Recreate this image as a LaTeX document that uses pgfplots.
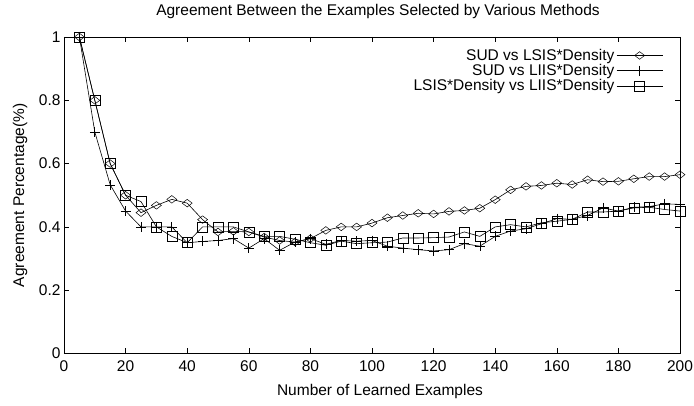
\documentclass[border=0pt]{standalone}
\usepackage{fontspec}
\setmainfont{Liberation Sans}
\usepackage{pgfplots}
\pgfplotsset{compat=1.18}
\begin{document}
\begin{tikzpicture}
\useasboundingbox (-64pt,-52.5pt) rectangle (630pt,353.5pt);
\begin{axis}[
  scale only axis,
  width=616pt, height=316.5pt,
  xmin=0, xmax=200, ymin=0, ymax=1,
  xtick={0,20,...,200},
  ytick={0,0.2,0.4,0.6,0.8,1},
  tick align=inside,
  major tick length=5pt,
  /pgf/number format/assume math mode=true,
  tick label style={font=\fontsize{15.5}{17}\selectfont},
  xticklabel style={yshift=-4pt},
  label style={font=\fontsize{15.5}{17}\selectfont},
  xlabel={Number of Learned Examples},
  xlabel style={at={(axis description cs:0.5,0)}, anchor=center, yshift=-38pt, xshift=8pt},
  ylabel={Agreement Percentage(\%)},
  ylabel style={at={(axis description cs:0,0.5)}, anchor=center, yshift=44pt},
  title={Agreement Between the Examples Selected by Various Methods},
  title style={font=\fontsize{15.5}{17}\selectfont, at={(axis description cs:0.5,1)}, anchor=base, yshift=15pt, xshift=6pt},
  axis line style={line width=0.6pt},
  every tick/.style={black, line width=0.5pt},
  legend plot pos=right,
  legend cell align=right,
  legend style={draw=none, fill=none, at={(axis cs:195.5,0.975)}, anchor=north east,
    font=\fontsize{15.5}{17}\selectfont, row sep=-1.5pt},
  legend image code/.code={\draw[mark repeat=2,mark phase=2] plot coordinates {(0pt,0pt) (23pt,0pt) (46pt,0pt)};},
]
\addplot[black, line width=0.6pt, mark=diamond, mark size=3.8pt, mark options={xscale=1.75, solid, line width=0.5pt}] coordinates {
(5,1.0) (10,0.8) (15,0.6) (20,0.5) (25,0.445) (30,0.468) (35,0.487) (40,0.475) (45,0.423) (50,0.384)
(55,0.386) (60,0.384) (65,0.368) (70,0.357) (75,0.352) (80,0.363) (85,0.389) (90,0.400) (95,0.400) (100,0.412)
(105,0.429) (110,0.436) (115,0.443) (120,0.441) (125,0.449) (130,0.452) (135,0.459) (140,0.486) (145,0.517) (150,0.528)
(155,0.531) (160,0.538) (165,0.534) (170,0.549) (175,0.543) (180,0.544) (185,0.552) (190,0.559) (195,0.559) (200,0.565)
};
\addlegendentry{SUD vs LSIS*Density}
\addplot[black, line width=0.6pt, mark=+, mark size=5pt, mark options={solid, line width=0.6pt}] coordinates {
(5,1.0) (10,0.70) (15,0.533) (20,0.45) (25,0.40) (30,0.40) (35,0.40) (40,0.35) (45,0.354) (50,0.357)
(55,0.363) (60,0.333) (65,0.363) (70,0.326) (75,0.352) (80,0.363) (85,0.345) (90,0.357) (95,0.355) (100,0.357)
(105,0.339) (110,0.333) (115,0.328) (120,0.324) (125,0.328) (130,0.347) (135,0.339) (140,0.370) (145,0.387) (150,0.394)
(155,0.410) (160,0.426) (165,0.424) (170,0.436) (175,0.460) (180,0.450) (185,0.462) (190,0.464) (195,0.473) (200,0.471)
};
\addlegendentry{SUD vs LIIS*Density}
\addplot[black, line width=0.6pt, mark=square, mark size=5pt, mark options={solid, line width=0.5pt}] coordinates {
(5,1.0) (10,0.8) (15,0.6) (20,0.5) (25,0.48) (30,0.40) (35,0.37) (40,0.35) (45,0.40) (50,0.40)
(55,0.40) (60,0.384) (65,0.37) (70,0.37) (75,0.361) (80,0.35) (85,0.342) (90,0.355) (95,0.347) (100,0.35)
(105,0.352) (110,0.365) (115,0.365) (120,0.366) (125,0.368) (130,0.384) (135,0.370) (140,0.40) (145,0.407) (150,0.40)
(155,0.413) (160,0.418) (165,0.424) (170,0.447) (175,0.447) (180,0.450) (185,0.460) (190,0.462) (195,0.455) (200,0.450)
};
\addlegendentry{LSIS*Density vs LIIS*Density}
\end{axis}
\end{tikzpicture}
\end{document}
